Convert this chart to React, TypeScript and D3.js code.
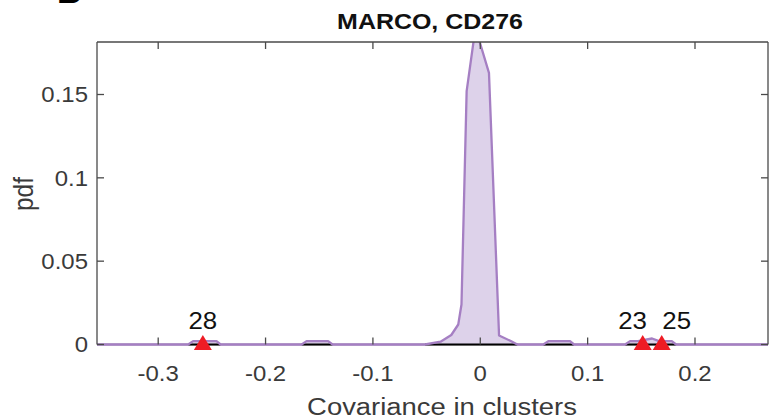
import React from "react";
import * as d3 from "d3";

// Kernel density estimate (pdf) sampled points
const pdfX = [
  -0.357, -0.2721, -0.2675, -0.2457, -0.2419, -0.1664, -0.1618, -0.1417, -0.1376,
  -0.0515, -0.037, -0.027, -0.0205, -0.0175, -0.0127, -0.0045, 0.0081, 0.0175,
  0.028, 0.0345, 0.0587, 0.0634, 0.0836, 0.0873, 0.1349, 0.1395, 0.147, 0.16,
  0.1665, 0.1784, 0.1824, 0.268,
];
const pdfY = [
  0, 0, 0.002, 0.002, 0, 0, 0.002, 0.002, 0,
  0, 0.0017, 0.0057, 0.012, 0.024, 0.152, 0.19, 0.163, 0.0054,
  0.0022, 0, 0, 0.002, 0.002, 0, 0, 0.002, 0.002, 0.0036,
  0.002, 0.002, 0, 0,
];

// Highlighted clusters
const markerIds = ["28", "23", "25"];
const markerX = [-0.2584, 0.1513, 0.169];
const markerLabelX = [-0.2584, 0.1418, 0.1829];

const xTicks = [-0.3, -0.2, -0.1, 0, 0.1, 0.2];
const xTickLabels = ["-0.3", "-0.2", "-0.1", "0", "0.1", "0.2"];
const yTicks = [0, 0.05, 0.1, 0.15];
const yTickLabels = ["0", "0.05", "0.1", "0.15"];

const titleText = "MARCO, CD276";
const xLabelText = "Covariance in clusters";
const yLabelText = "pdf";

const W = 770;
const H = 420;
const left = 97;
const right = 768;
const top = 42;
const bottom = 344.5;
const SX = 1.12;
const FONT = "'Liberation Sans', Arial, Helvetica, sans-serif";
const AXIS = "#4a4a4a";
const TXT = "#3a3a3a";
const LINE = "#a57fc3";
const FILL = "#ddd2ea";
const RED = "#ee1c25";

export default function App() {
  const x = d3.scaleLinear().domain([-0.357, 0.268]).range([left, right]);
  const y = d3.scaleLinear().domain([0, 0.1815]).range([bottom, top]);

  const pts: [number, number][] = pdfX.map((v, i) => [v, pdfY[i]]);
  const area = d3
    .area<[number, number]>()
    .x((d) => x(d[0]))
    .y0(y(0))
    .y1((d) => y(d[1]))(pts) as string;
  const line = d3
    .line<[number, number]>()
    .x((d) => x(d[0]))
    .y((d) => y(d[1]))(pts) as string;

  // baseline segments under positive density
  const segs: [number, number][] = [];
  for (let i = 0; i < pts.length; i++) {
    if (pts[i][1] > 0) {
      const a = pts[Math.max(0, i - 1)][0];
      const b = pts[Math.min(pts.length - 1, i + 1)][0];
      const last = segs[segs.length - 1];
      if (last && a <= last[1]) last[1] = Math.max(last[1], b);
      else segs.push([a, b]);
    }
  }

  const tickLen = 7;
  const y0 = y(0);

  return (
    <svg width={W} height={H} style={{ display: "block", position: "absolute", left: 0, top: 0 }}>
      <rect x={0} y={0} width={W} height={H} fill="#fff" />
      <text
        transform={`translate(57,3) scale(${SX},1)`}
        fontFamily={FONT}
        fontWeight="bold"
        fontSize={30}
        fill="#000"
      >
        B
      </text>
      <defs>
        <clipPath id="plotclip">
          <rect x={left} y={top} width={right - left} height={bottom - top + 10} />
        </clipPath>
      </defs>
      {/* bottom axis line (under data) */}
      <line x1={left} x2={right} y1={y0} y2={y0} stroke={AXIS} strokeWidth={1.3} />
      <g clipPath="url(#plotclip)">
        <path d={area} fill={FILL} stroke="none" />
        {segs.map((s, i) => (
          <line key={i} x1={x(s[0])} x2={x(s[1])} y1={y0} y2={y0} stroke="#000" strokeWidth={2} />
        ))}
        <path d={line} fill="none" stroke={LINE} strokeWidth={2.3} strokeLinejoin="round" />
      </g>
      {/* frame */}
      <line x1={left} x2={left} y1={top} y2={bottom} stroke={AXIS} strokeWidth={1.3} />
      <line x1={right} x2={right} y1={top} y2={bottom} stroke={AXIS} strokeWidth={1.3} />
      <line x1={left} x2={right} y1={top} y2={top} stroke={AXIS} strokeWidth={1.3} />
      {xTicks.map((t, i) => (
        <g key={"xt" + i}>
          <line x1={x(t)} x2={x(t)} y1={bottom} y2={bottom - tickLen} stroke={AXIS} strokeWidth={1.3} />
          <line x1={x(t)} x2={x(t)} y1={top} y2={top + tickLen} stroke={AXIS} strokeWidth={1.3} />
          <text
            transform={`translate(${x(t)},381) scale(${SX},1)`}
            textAnchor="middle"
            fontFamily={FONT}
            fontSize={21.4}
            fill={TXT}
          >
            {xTickLabels[i]}
          </text>
        </g>
      ))}
      {yTicks.map((t, i) => (
        <g key={"yt" + i}>
          <line x1={left} x2={left + tickLen} y1={y(t)} y2={y(t)} stroke={AXIS} strokeWidth={1.3} />
          <line x1={right} x2={right - tickLen} y1={y(t)} y2={y(t)} stroke={AXIS} strokeWidth={1.3} />
          <text
            transform={`translate(88,${y(t) + 7.7}) scale(${SX},1)`}
            textAnchor="end"
            fontFamily={FONT}
            fontSize={21.4}
            fill={TXT}
          >
            {yTickLabels[i]}
          </text>
        </g>
      ))}
      {/* markers */}
      {markerX.map((m, i) => (
        <g key={"m" + i}>
          <path
            d={`M${x(m)},${y0 - 9.5}L${x(m) - 9},${y0 + 5.5}L${x(m) + 9},${y0 + 5.5}Z`}
            fill={RED}
          />
          <text
            transform={`translate(${x(markerLabelX[i])},${y0 - 15.5}) scale(1.1,1)`}
            textAnchor="middle"
            fontFamily={FONT}
            fontSize={23.5}
            fill="#111"
          >
            {markerIds[i]}
          </text>
        </g>
      ))}
      <text
        transform={`translate(430,29) scale(${SX},1)`}
        textAnchor="middle"
        fontFamily={FONT}
        fontWeight="bold"
        fontSize={22.3}
        fill="#111"
      >
        {titleText}
      </text>
      <text
        transform={`translate(442,414.5) scale(${SX},1)`}
        textAnchor="middle"
        fontFamily={FONT}
        fontSize={24.5}
        fill={TXT}
      >
        {xLabelText}
      </text>
      <text
        transform={`translate(33,194) scale(${SX},1) rotate(-90)`}
        textAnchor="middle"
        fontFamily={FONT}
        fontSize={24.5}
        fill={TXT}
      >
        {yLabelText}
      </text>
    </svg>
  );
}
